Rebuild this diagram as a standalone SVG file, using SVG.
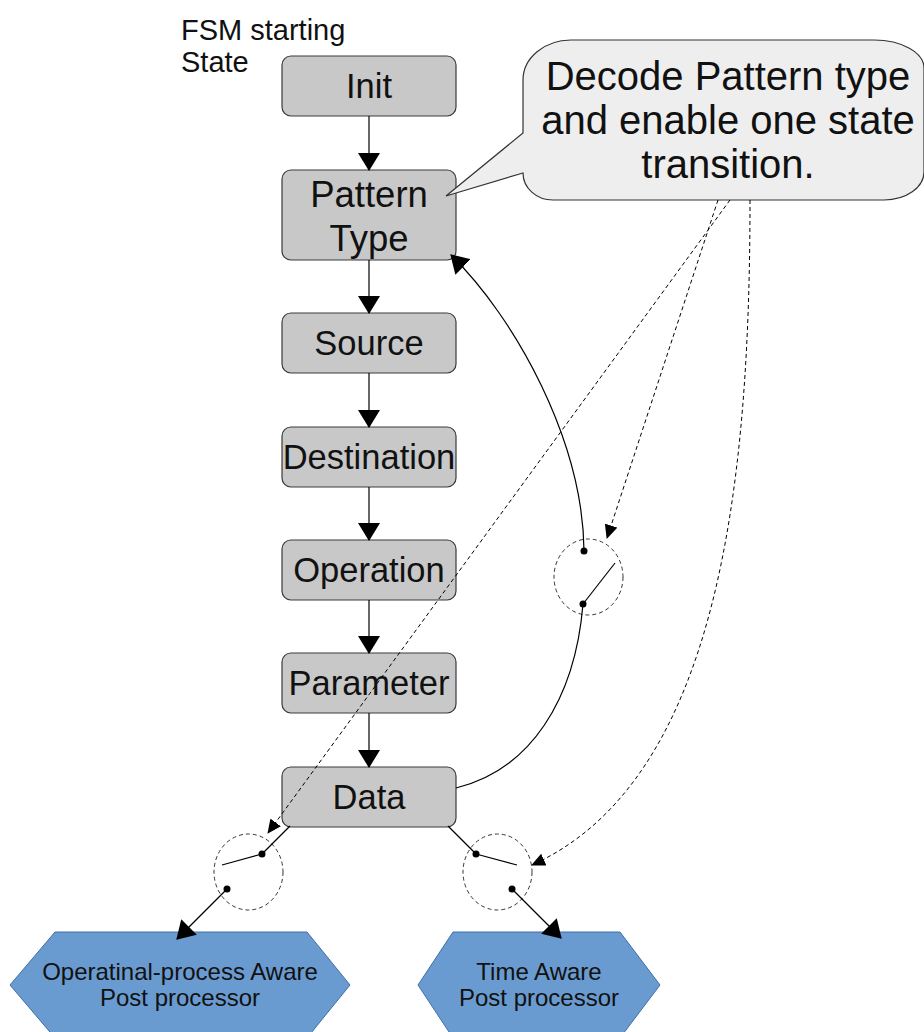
<svg xmlns="http://www.w3.org/2000/svg" width="924" height="1032" viewBox="0 0 924 1032">
  <style>
    .state rect { fill: #c8c8c8; stroke: #3a3a3a; stroke-width: 1.2; }
    .state text, .label { font-family: "Liberation Sans", Arial, sans-serif; fill: #111; text-anchor: middle; }
    .state text { font-size: 34.5px; }
    .state text.big { font-size: 36.5px; }
    .bubble path { fill: #eeeeee; stroke: #333; stroke-width: 1.2; }
    .bubble text { font-size: 40px; }
    .hex polygon { fill: #6a9bd0; stroke: #3f6fa8; stroke-width: 1; }
    .hex text { font-size: 24px; }
    .switch ellipse { fill: none; stroke: #333; stroke-width: 1; stroke-dasharray: 4 3; }
    .switch circle { fill: #000; }
    .switch line { stroke: #000; stroke-width: 1.2; }
    .flow { fill: none; stroke: #000; stroke-width: 1.2; }
    .ctl { fill: none; stroke: #000; stroke-width: 1; stroke-dasharray: 4 3; }
  </style>
  <defs>
    <marker id="arrow" markerUnits="userSpaceOnUse" viewBox="0 0 18 22" refX="17" refY="11" markerWidth="18" markerHeight="22" orient="auto">
      <path d="M0,0 L18,11 L0,22 Z" fill="#000"/>
    </marker>
    <marker id="arrowSmall" markerUnits="userSpaceOnUse" viewBox="0 0 14 13" refX="13" refY="6.5" markerWidth="14" markerHeight="13" orient="auto">
      <path d="M0,0 L14,6.5 L0,13 Z" fill="#000"/>
    </marker>
  </defs>

  <!-- start label -->
  <g id="start-label">
    <text class="label" x="181" y="40" style="text-anchor:start;font-size:29px">FSM starting</text>
    <text class="label" x="181" y="72" style="text-anchor:start;font-size:29px">State</text>
  </g>

  <!-- FSM states -->
  <g id="init" class="state">
    <rect x="282" y="56" width="174" height="60" rx="9"/>
    <text x="369" y="98">Init</text>
  </g>
  <g id="pattern-type" class="state">
    <rect x="282" y="170" width="174" height="90" rx="9"/>
    <text class="big" x="369" y="207">Pattern</text>
    <text class="big" x="369" y="251">Type</text>
  </g>
  <g id="source" class="state">
    <rect x="282" y="313" width="174" height="60" rx="9"/>
    <text x="369" y="355">Source</text>
  </g>
  <g id="destination" class="state">
    <rect x="282" y="427" width="174" height="60" rx="9"/>
    <text x="369" y="469">Destination</text>
  </g>
  <g id="operation" class="state">
    <rect x="282" y="540" width="174" height="60" rx="9"/>
    <text x="369" y="582">Operation</text>
  </g>
  <g id="parameter" class="state">
    <rect x="282" y="653" width="174" height="60" rx="9"/>
    <text x="369" y="695">Parameter</text>
  </g>
  <g id="data" class="state">
    <rect x="282" y="767" width="174" height="60" rx="9"/>
    <text x="369" y="809">Data</text>
  </g>

  <!-- callout -->
  <g id="decode-note" class="bubble">
    <path d="M571,40 H874 A50,28 0 0 1 924,68 V172 A40,28 0 0 1 884,200 H553 A30,27 0 0 1 523,173 L446,196 L523,133 V80 A48,40 0 0 1 571,40 Z"/>
    <text class="label" x="728" y="90">Decode Pattern type</text>
    <text class="label" x="728" y="134">and enable one state</text>
    <text class="label" x="728" y="178">transition.</text>
  </g>

  <!-- post processors -->
  <g id="op-aware" class="hex">
    <polygon points="10,985 55,932 307,932 350,985 307,1038 55,1038"/>
    <text class="label" x="180" y="980">Operatinal-process Aware</text>
    <text class="label" x="180" y="1006">Post processor</text>
  </g>
  <g id="time-aware" class="hex">
    <polygon points="418,985 453,932 620,932 660,985 620,1038 453,1038"/>
    <text class="label" x="539" y="980">Time Aware</text>
    <text class="label" x="539" y="1006">Post processor</text>
  </g>

  <!-- transition switches -->
  <g id="switch-loop" class="switch">
    <ellipse cx="588.5" cy="577" rx="34.5" ry="38"/>
    <line x1="583" y1="604" x2="615" y2="563"/>
    <circle cx="584" cy="551" r="3.5"/>
    <circle cx="583" cy="604" r="3.5"/>
  </g>
  <g id="switch-op" class="switch">
    <ellipse cx="248.5" cy="872" rx="34.5" ry="38"/>
    <line x1="262" y1="854" x2="222" y2="865"/>
    <circle cx="262" cy="854" r="3.5"/>
    <circle cx="227" cy="889" r="3.5"/>
  </g>
  <g id="switch-time" class="switch">
    <ellipse cx="497.5" cy="872" rx="34.5" ry="38"/>
    <line x1="476" y1="854" x2="517" y2="865"/>
    <circle cx="476" cy="854" r="3.5"/>
    <circle cx="512" cy="889" r="3.5"/>
  </g>

  <!-- connectors -->
  <g id="connectors">
    <line class="flow" x1="369" y1="116" x2="369" y2="170" marker-end="url(#arrow)"/>
    <line class="flow" x1="369" y1="260" x2="369" y2="313" marker-end="url(#arrow)"/>
    <line class="flow" x1="369" y1="373" x2="369" y2="427" marker-end="url(#arrow)"/>
    <line class="flow" x1="369" y1="487" x2="369" y2="540" marker-end="url(#arrow)"/>
    <line class="flow" x1="369" y1="600" x2="369" y2="653" marker-end="url(#arrow)"/>
    <line class="flow" x1="369" y1="713" x2="369" y2="767" marker-end="url(#arrow)"/>

    <!-- loop back from Data to Pattern Type through the switch -->
    <path class="flow" d="M456,788 C530,770 575,700 583,604"/>
    <path class="flow" d="M584,551 C583,440 515,318 451,255" marker-end="url(#arrow)"/>

    <!-- Data to post processors through the switches -->
    <line class="flow" x1="290" y1="826" x2="262" y2="854"/>
    <line class="flow" x1="227" y1="889" x2="177" y2="939" marker-end="url(#arrow)"/>
    <line class="flow" x1="448" y1="826" x2="476" y2="854"/>
    <line class="flow" x1="512" y1="889" x2="561" y2="938" marker-end="url(#arrow)"/>

    <!-- control lines from the decoder -->
    <line class="ctl" x1="718" y1="200" x2="607" y2="538" marker-end="url(#arrowSmall)"/>
    <line class="ctl" x1="730" y1="200" x2="268" y2="833" marker-end="url(#arrowSmall)"/>
    <path class="ctl" d="M750,200 C750,480 720,780 532,865" marker-end="url(#arrowSmall)"/>
  </g>
</svg>
